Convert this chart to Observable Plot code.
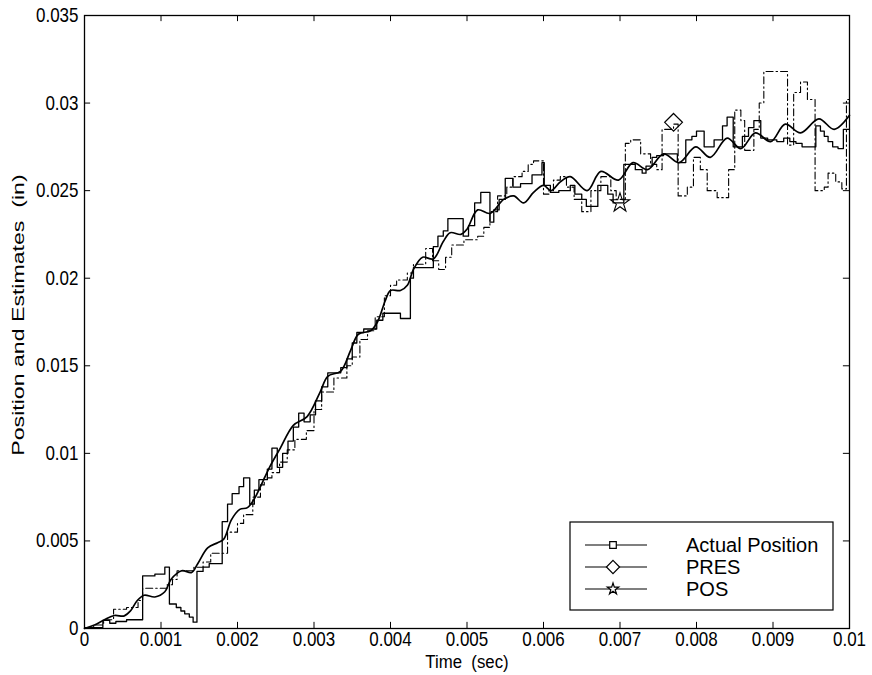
<!DOCTYPE html>
<html><head><meta charset="utf-8">
<script src="https://cdn.jsdelivr.net/npm/d3@7"></script>
<script src="https://cdn.jsdelivr.net/npm/@observablehq/plot@0.6"></script>
<style>body{margin:0;background:#fff;} svg{display:block}</style>
</head><body><div id="chart"></div>
<script>
// ---- tick values & labels ----
const xTicks = [0, 0.001, 0.002, 0.003, 0.004, 0.005, 0.006, 0.007, 0.008, 0.009, 0.01];
const xTickLabels = ["0", "0.001", "0.002", "0.003", "0.004", "0.005", "0.006", "0.007", "0.008", "0.009", "0.01"];
const yTicks = [0, 0.005, 0.01, 0.015, 0.02, 0.025, 0.03, 0.035];
const yTickLabels = ["0", "0.005", "0.01", "0.015", "0.02", "0.025", "0.03", "0.035"];
const xLabel = "Time  (sec)";
const yLabel = "Position and Estimates  (in)";
const legendLabels = ["Actual Position", "PRES", "POS"];

// ---- series: [time in ms, position in inches] ----
const actualPts = [
  [0,0],[0.13,0.0002],[0.26,0.0005],[0.39,0.00074],[0.52,0.00072],[0.6,0.0010],[0.69,0.0016],[0.78,0.0019],
  [0.92,0.0018],[1.05,0.0021],[1.13,0.0028],[1.27,0.0033],[1.40,0.0032],[1.48,0.0037],[1.61,0.0046],[1.74,0.0049],
  [1.82,0.0051],[1.92,0.0062],[2.03,0.0068],[2.13,0.0069],[2.22,0.0074],[2.30,0.0081],[2.43,0.0093],[2.56,0.0103],
  [2.73,0.0116],[2.91,0.0121],[3.08,0.0135],[3.18,0.0144],[3.35,0.0147],[3.48,0.0159],[3.58,0.0168],[3.74,0.0170],
  [3.83,0.0175],[3.93,0.0187],[4.0,0.0193],[4.13,0.0193],[4.22,0.0196],[4.30,0.0205],[4.42,0.0212],[4.56,0.0211],
  [4.69,0.0221],[4.78,0.0226],[4.92,0.0225],[5.0,0.0228],[5.14,0.0239],[5.30,0.0237],[5.48,0.0245],[5.61,0.0247],
  [5.74,0.0243],[5.87,0.0249],[6.0,0.0253],[6.1,0.0250],[6.22,0.0255],[6.35,0.0258],[6.57,0.0250],[6.75,0.0261],
  [6.98,0.0256],[7.17,0.0266],[7.36,0.0262],[7.57,0.0271],[7.77,0.0266],[7.99,0.0275],[8.18,0.0269],[8.40,0.0280],
  [8.58,0.0274],[8.77,0.0283],[8.97,0.0278],[9.16,0.0288],[9.36,0.0283],[9.60,0.0291],[9.80,0.0285],[10.0,0.0293]
];
const presSteps = [
  [0,0],[0.12,0.0002],[0.25,0.0005],[0.38,0.0011],[0.55,0.0012],[0.70,0.0016],[0.76,0.0023],[1.08,0.0025],
  [1.15,0.0028],[1.21,0.0033],[1.43,0.0035],[1.55,0.0038],[1.65,0.0043],[1.87,0.0055],[2.00,0.0060],[2.08,0.0065],
  [2.20,0.0075],[2.30,0.0082],[2.35,0.0086],[2.45,0.0089],[2.55,0.0095],[2.65,0.0102],[2.75,0.0108],[2.90,0.0113],
  [3.00,0.0125],[3.10,0.0135],[3.26,0.0143],[3.43,0.0150],[3.50,0.0155],[3.60,0.0165],[3.70,0.0170],[3.80,0.0178],
  [3.92,0.0190],[4.00,0.0196],[4.08,0.0199],[4.22,0.0203],[4.30,0.0208],[4.46,0.0217],[4.55,0.0210],[4.63,0.0205],
  [4.72,0.0212],[4.80,0.0219],[4.96,0.0222],[5.14,0.0224],[5.22,0.0229],[5.30,0.0238],[5.40,0.0247],[5.52,0.0252],
  [5.60,0.0258],[5.72,0.0261],[5.80,0.0265],[5.87,0.0267],[6.00,0.0248],[6.07,0.0250],[6.13,0.0256],[6.22,0.0258],
  [6.30,0.0252],[6.40,0.0245],[6.50,0.0238],[6.62,0.0250],[6.75,0.0258],[6.88,0.0250],[6.95,0.0245],[7.07,0.0277],
  [7.14,0.0279],[7.27,0.0271],[7.40,0.0265],[7.48,0.0262],[7.55,0.0285],[7.70,0.0288],[7.76,0.0247],[7.88,0.0252],
  [7.96,0.0269],[8.05,0.0262],[8.14,0.0250],[8.27,0.0246],[8.42,0.0262],[8.50,0.0296],[8.58,0.0290],[8.63,0.0273],
  [8.75,0.0285],[8.82,0.0300],[8.88,0.0318],[9.19,0.0276],[9.27,0.0306],[9.36,0.0312],[9.45,0.0302],[9.55,0.0250],
  [9.67,0.0252],[9.72,0.0260],[9.82,0.0255],[9.90,0.0251],[9.96,0.0302],[10.0,0.0302]
];
const posSteps = [
  [0,0.00005],[0.24,0.00046],[0.33,0.0003],[0.41,0.0004],[0.55,0.0005],[0.76,0.0030],[0.92,0.0031],[1.05,0.0035],
  [1.11,0.0014],[1.20,0.0012],[1.26,0.0010],[1.31,0.00084],[1.37,0.00065],[1.42,0.00036],[1.47,0.00326],[1.55,0.0035],
  [1.63,0.0037],[1.80,0.0061],[1.87,0.0071],[1.93,0.0077],[2.02,0.0081],[2.08,0.0086],[2.16,0.0071],[2.22,0.0079],
  [2.28,0.0085],[2.39,0.0091],[2.45,0.0103],[2.52,0.0092],[2.59,0.0100],[2.66,0.0107],[2.73,0.0115],[2.80,0.0123],
  [2.87,0.0118],[2.95,0.0122],[3.02,0.0130],[3.10,0.0138],[3.18,0.0146],[3.35,0.0149],[3.43,0.0154],[3.50,0.0163],
  [3.56,0.0169],[3.65,0.0171],[3.82,0.0176],[3.90,0.0180],[4.13,0.0177],[4.26,0.0200],[4.30,0.0206],[4.56,0.0218],
  [4.62,0.0224],[4.69,0.0227],[4.75,0.0234],[4.95,0.0224],[5.02,0.0230],[5.10,0.0243],[5.18,0.0249],[5.30,0.0232],
  [5.35,0.0239],[5.42,0.0245],[5.50,0.0257],[5.60,0.0252],[5.70,0.0254],[5.85,0.0259],[5.98,0.0266],[6.01,0.0253],
  [6.09,0.0249],[6.20,0.0250],[6.35,0.0253],[6.41,0.0248],[6.50,0.0245],[6.56,0.0241],[6.71,0.0253],[6.84,0.0248],
  [6.91,0.0243],[7.05,0.0265],[7.20,0.0262],[7.29,0.0260],[7.34,0.0264],[7.42,0.0269],[7.48,0.0270],[7.57,0.0271],
  [7.75,0.0266],[7.86,0.0279],[7.94,0.0281],[8.00,0.0284],[8.10,0.0275],[8.23,0.0279],[8.34,0.0287],[8.40,0.0292],
  [8.48,0.0275],[8.60,0.0281],[8.68,0.0286],[8.75,0.0290],[8.84,0.0280],[8.93,0.0279],[9.05,0.0278],[9.14,0.0280],
  [9.22,0.0278],[9.30,0.0277],[9.38,0.0275],[9.56,0.0287],[9.62,0.0284],[9.67,0.0281],[9.72,0.0278],[9.78,0.0275],
  [9.85,0.0274],[9.92,0.0285],[10.0,0.0285]
];
// single markers drawn on the estimate curves
const presMarker = [[7.70, 0.0289]];
const posMarker = [[7.00, 0.0243]];

// ---- build ----
const toRows = arr => arr.map(([t, v]) => ({t: t / 1000, v}));
const actual = toRows(actualPts), pres = toRows(presSteps), pos = toRows(posSteps);
const xFmt = new Map(xTicks.map((d, i) => [d, xTickLabels[i]]));
const yFmt = new Map(yTicks.map((d, i) => [d, yTickLabels[i]]));
const font = "'Liberation Sans', Arial, Helvetica, sans-serif";
const xMax = xTicks[xTicks.length - 1], yMax = yTicks[yTicks.length - 1];
const tickLenX = xMax * 0.008, tickLenY = yMax * 0.01;

const W = 872, H = 675, mL = 84, mR = 23, mT = 15, mB = 47;
const chart = Plot.plot({
  width: W, height: H,
  marginLeft: mL, marginRight: mR, marginTop: mT, marginBottom: mB,
  x: {domain: [0, xMax]},
  y: {domain: [0, yMax]},
  style: {fontFamily: font, background: "#fff", color: "#000", overflow: "visible"},
  marks: [
    Plot.axisX({ticks: xTicks, tickSize: 0, tickPadding: 3, tickFormat: d => xFmt.get(d), fontSize: 17, label: null}),
    Plot.axisY({ticks: yTicks, tickSize: 0, tickPadding: 6, tickFormat: d => yFmt.get(d), fontSize: 17, label: null}),
    Plot.ruleX(xTicks, {x: d => d, y1: 0, y2: tickLenY, stroke: "#000"}),
    Plot.ruleX(xTicks, {x: d => d, y1: yMax, y2: yMax - tickLenY, stroke: "#000"}),
    Plot.ruleY(yTicks, {y: d => d, x1: 0, x2: tickLenX, stroke: "#000"}),
    Plot.ruleY(yTicks, {y: d => d, x1: xMax, x2: xMax - tickLenX, stroke: "#000"}),
    Plot.line(pres, {x: "t", y: "v", curve: "step-after", stroke: "#000", strokeWidth: 1.1, strokeDasharray: "7,3,1.5,3"}),
    Plot.line(pos, {x: "t", y: "v", curve: "step-after", stroke: "#000", strokeWidth: 1.3}),
    Plot.line(actual, {x: "t", y: "v", curve: "catmull-rom", stroke: "#000", strokeWidth: 1.7}),
    Plot.dot(toRows(presMarker), {x: "t", y: "v", symbol: "diamond2", r: 8, stroke: "#000", fill: "none", strokeWidth: 1.2}),
    Plot.dot(toRows(posMarker), {x: "t", y: "v", symbol: "star", r: 6, stroke: "#000", fill: "none", strokeWidth: 1.1}),
    Plot.frame({stroke: "#000", strokeWidth: 1.3}),
    Plot.text([xLabel], {text: d => d, frameAnchor: "bottom", textAnchor: "middle", dy: 39, fontSize: 16}),
    Plot.text([yLabel], {text: d => d, frameAnchor: "left", textAnchor: "middle", rotate: -90, dx: -66, dy: -7, fontSize: 17})
  ]
});
document.getElementById("chart").appendChild(chart);

// the scanned reference is taller than wide: stretch text accordingly
function stretch(sel, sx, sy) {
  sel.each(function() {
    const t = this.getAttribute("transform") || "";
    this.setAttribute("transform", `${t} scale(${sx},${sy})`);
  });
}
const allText = d3.select(chart).selectAll("text");
const tickLabelSet = new Set([...xTickLabels, ...yTickLabels]);
stretch(allText.filter(function() { return tickLabelSet.has(this.textContent.trim()); }), 1, 1.2);
stretch(allText.filter(function() { return this.textContent.includes("Estimates"); }), 1.36, 1);
stretch(allText.filter(function() { return this.textContent.includes("sec"); }), 1.05, 1.1);

// ---- legend box, bottom-right inside the axes ----
const legendSymbols = [d3.symbolSquare2, d3.symbolDiamond2, d3.symbolStar];
const legendSizes = [55, 110, 40];
const boxW = 263, boxH = 88;
const boxX = W - mR - 16 - boxW, boxY = H - mB - 18 - boxH;
const g = d3.select(chart).append("g").attr("font-family", font).attr("text-anchor", "start");
g.append("rect").attr("x", boxX).attr("y", boxY).attr("width", boxW).attr("height", boxH)
  .attr("fill", "#fff").attr("stroke", "#000").attr("stroke-width", 1.2);
legendLabels.forEach((lab, i) => {
  const cy = boxY + 23 + i * 22;
  g.append("line").attr("x1", boxX + 15).attr("x2", boxX + 77).attr("y1", cy).attr("y2", cy)
    .attr("stroke", "#000").attr("stroke-width", 1.2);
  g.append("path").attr("d", d3.symbol(legendSymbols[i], legendSizes[i])())
    .attr("transform", `translate(${boxX + 43},${cy})`)
    .attr("fill", "#fff").attr("stroke", "#000").attr("stroke-width", 1.2);
  g.append("text").attr("x", boxX + 116).attr("y", cy).attr("dy", "0.36em")
    .attr("text-anchor", "start").attr("font-size", 20).text(lab);
});
</script>
</body></html>
